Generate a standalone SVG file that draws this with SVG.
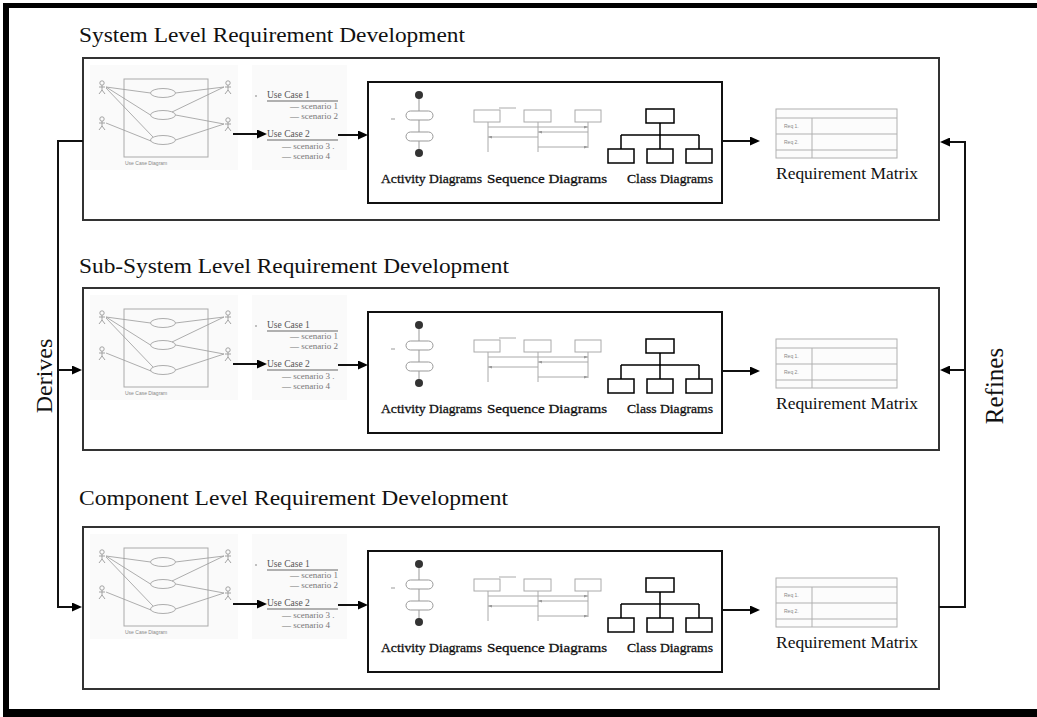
<svg xmlns="http://www.w3.org/2000/svg" xmlns:xlink="http://www.w3.org/1999/xlink" width="1037" height="717" viewBox="0 0 1037 717">
<style>
.title{font-family:"Liberation Serif","Times New Roman",serif;font-size:20px;fill:#111}
.side{font-family:"Liberation Serif","Times New Roman",serif;font-size:24px;fill:#111}
.panel{fill:#fff;stroke:#333;stroke-width:2}
.inner{fill:#fff;stroke:#111;stroke-width:2}
.faintbg{fill:#fafafa}
.uc{fill:none;stroke:#aaa;stroke-width:1}
.ucl{fill:none;stroke:#999;stroke-width:0.8}
.tiny{font-family:"Liberation Sans",Arial,sans-serif;font-size:5px;fill:#888}
.list{font-family:"Liberation Serif","Times New Roman",serif;font-size:9px;fill:#777}
.listh{font-family:"Liberation Serif","Times New Roman",serif;font-size:9.5px;fill:#555}
.ul{stroke:#666;stroke-width:1}
.act{fill:#fff;stroke:#999;stroke-width:1}
.dot{fill:#333}
.seq{fill:none;stroke:#aaa;stroke-width:1}
.cls{fill:none;stroke:#000;stroke-width:1.5}
.lbl{font-family:"Liberation Serif","Times New Roman",serif;font-size:13px;fill:#111;stroke:#111;stroke-width:0.3}
.mx{fill:none;stroke:#b0b0b0;stroke-width:1}
.mxl{font-family:"Liberation Serif","Times New Roman",serif;font-size:17px;fill:#111}
.conn{fill:none;stroke:#111;stroke-width:2}
.frame{fill:#000}
</style>
<defs>
<marker id="ah" viewBox="0 0 10 9" refX="7" refY="4.5" markerWidth="10" markerHeight="9" markerUnits="userSpaceOnUse" orient="auto"><path d="M0,0 L10,4.5 L0,9 z" fill="#000"/></marker>
<marker id="sa" viewBox="0 0 4 3" refX="4" refY="1.5" markerWidth="4" markerHeight="3" markerUnits="userSpaceOnUse" orient="auto"><path d="M0,0 L4,1.5 L0,3 z" fill="#999"/></marker>
<g id="actor" fill="none" stroke="#999" stroke-width="0.9"><circle cx="0" cy="-4" r="2.2"/><path d="M0 -1.8 V3 M-3 0 H3 M0 3 L-3 7 M0 3 L3 7"/></g>
</defs>

<g id="frame">
<rect class="frame" x="3" y="3" width="1034" height="5"/>
<rect class="frame" x="3" y="3" width="6" height="714"/>
<rect class="frame" x="3" y="709" width="1034" height="8"/>
</g>

<!-- System level -->
<g id="system-level" transform="translate(0,58)">
<text class="title" x="79" y="-16" textLength="386" lengthAdjust="spacingAndGlyphs">System Level Requirement Development</text>
<rect class="panel" x="83" y="0" width="856" height="162"/>
<g id="system-usecase-diagram">
<rect class="faintbg" x="90" y="7" width="148" height="105"/>
<rect class="uc" x="124" y="21" width="84" height="78"/>
<path class="ucl" d="M106 29 L150.5 35 M106 29 L150.5 57 M106 30 L153 79 M106 65 L151 83 M224 29 L175.5 35 M224 29 L172 54 M224 66 L175.5 57 M224 66 L175.5 82"/>
<ellipse class="ucl" cx="163" cy="35" rx="12.5" ry="4.5" fill="#fff"/>
<ellipse class="ucl" cx="163" cy="57" rx="12.5" ry="4.5" fill="#fff"/>
<ellipse class="ucl" cx="163" cy="82" rx="12.5" ry="4.5" fill="#fff"/>
<use xlink:href="#actor" href="#actor" x="102" y="29"/>
<use xlink:href="#actor" href="#actor" x="102" y="65"/>
<use xlink:href="#actor" href="#actor" x="228" y="29"/>
<use xlink:href="#actor" href="#actor" x="228" y="66"/>
<text class="tiny" x="125" y="107">Use Case Diagram</text>
</g>
<g id="system-use-cases">
<rect class="faintbg" x="252" y="7" width="95" height="105"/>
<circle cx="256" cy="38" r="0.8" fill="#777"/>
<text class="listh" x="267" y="40">Use Case 1</text>
<line class="ul" x1="267" y1="43" x2="338" y2="43"/>
<text class="list" x="290" y="51">— scenario 1</text>
<text class="list" x="290" y="61">— scenario 2</text>
<text class="listh" x="267" y="79">Use Case 2</text>
<line class="ul" x1="267" y1="82" x2="338" y2="82"/>
<text class="list" x="282" y="91">— scenario 3 .</text>
<text class="list" x="282" y="101">— scenario 4</text>
</g>
<g id="system-diagrams">
<rect class="inner" x="368" y="24" width="354" height="121"/>
<line class="act" x1="419" y1="37" x2="419" y2="95"/>
<rect class="act" x="406" y="53" width="27" height="9" rx="4.5"/>
<rect class="act" x="406" y="74" width="27" height="9" rx="4.5"/>
<circle class="dot" cx="419" cy="37" r="4"/>
<circle class="dot" cx="419" cy="95" r="4"/>
<line class="act" x1="391" y1="61" x2="395" y2="61"/>
<path class="seq" d="M488 64 V94 M538 64 V94 M588 64 V90 M499 50 H516"/>
<rect class="seq" x="474" y="52" width="26" height="12"/>
<rect class="seq" x="524" y="52" width="27" height="12"/>
<rect class="seq" x="575" y="52" width="26" height="12"/>
<line class="seq" x1="488" y1="69" x2="588" y2="69" marker-end="url(#sa)"/>
<line class="seq" x1="588" y1="74" x2="538" y2="74" marker-end="url(#sa)"/>
<line class="seq" x1="538" y1="79" x2="488" y2="79" marker-end="url(#sa)"/>
<line class="seq" x1="538" y1="89" x2="588" y2="89" marker-end="url(#sa)"/>
<rect class="cls" x="646" y="51" width="28" height="14"/>
<path class="cls" d="M660 65 V77 M621 77 H699 M621 77 V91 M660 77 V91 M699 77 V91"/>
<rect class="cls" x="608" y="91" width="26" height="14"/>
<rect class="cls" x="647" y="91" width="26" height="14"/>
<rect class="cls" x="686" y="91" width="26" height="14"/>
<text class="lbl" x="381" y="125" textLength="101" lengthAdjust="spacingAndGlyphs">Activity Diagrams</text>
<text class="lbl" x="487" y="125" textLength="120" lengthAdjust="spacingAndGlyphs">Sequence Diagrams</text>
<text class="lbl" x="627" y="125" textLength="86" lengthAdjust="spacingAndGlyphs">Class Diagrams</text>
</g>
<g id="system-matrix">
<rect x="776" y="51" width="121" height="49" fill="#fcfcfc" stroke="#b0b0b0"/>
<path class="mx" d="M776 60 H897 M776 76 H897 M776 92 H897 M812 60 V100"/>
<text class="tiny" x="784" y="70">Req 1.</text>
<text class="tiny" x="784" y="86">Req 2.</text>
<text class="mxl" x="776" y="121" textLength="142" lengthAdjust="spacingAndGlyphs">Requirement Matrix</text>
</g>
</g>

<!-- Sub-System level -->
<g id="subsystem-level" transform="translate(0,288)">
<text class="title" x="79" y="-15" textLength="430" lengthAdjust="spacingAndGlyphs">Sub-System Level Requirement Development</text>
<rect class="panel" x="83" y="0" width="856" height="162"/>
<g id="subsystem-usecase-diagram">
<rect class="faintbg" x="90" y="7" width="148" height="105"/>
<rect class="uc" x="124" y="21" width="84" height="78"/>
<path class="ucl" d="M106 29 L150.5 35 M106 29 L150.5 57 M106 30 L153 79 M106 65 L151 83 M224 29 L175.5 35 M224 29 L172 54 M224 66 L175.5 57 M224 66 L175.5 82"/>
<ellipse class="ucl" cx="163" cy="35" rx="12.5" ry="4.5" fill="#fff"/>
<ellipse class="ucl" cx="163" cy="57" rx="12.5" ry="4.5" fill="#fff"/>
<ellipse class="ucl" cx="163" cy="82" rx="12.5" ry="4.5" fill="#fff"/>
<use xlink:href="#actor" href="#actor" x="102" y="29"/>
<use xlink:href="#actor" href="#actor" x="102" y="65"/>
<use xlink:href="#actor" href="#actor" x="228" y="29"/>
<use xlink:href="#actor" href="#actor" x="228" y="66"/>
<text class="tiny" x="125" y="107">Use Case Diagram</text>
</g>
<g id="subsystem-use-cases">
<rect class="faintbg" x="252" y="7" width="95" height="105"/>
<circle cx="256" cy="38" r="0.8" fill="#777"/>
<text class="listh" x="267" y="40">Use Case 1</text>
<line class="ul" x1="267" y1="43" x2="338" y2="43"/>
<text class="list" x="290" y="51">— scenario 1</text>
<text class="list" x="290" y="61">— scenario 2</text>
<text class="listh" x="267" y="79">Use Case 2</text>
<line class="ul" x1="267" y1="82" x2="338" y2="82"/>
<text class="list" x="282" y="91">— scenario 3 .</text>
<text class="list" x="282" y="101">— scenario 4</text>
</g>
<g id="subsystem-diagrams">
<rect class="inner" x="368" y="24" width="354" height="121"/>
<line class="act" x1="419" y1="37" x2="419" y2="95"/>
<rect class="act" x="406" y="53" width="27" height="9" rx="4.5"/>
<rect class="act" x="406" y="74" width="27" height="9" rx="4.5"/>
<circle class="dot" cx="419" cy="37" r="4"/>
<circle class="dot" cx="419" cy="95" r="4"/>
<line class="act" x1="391" y1="61" x2="395" y2="61"/>
<path class="seq" d="M488 64 V94 M538 64 V94 M588 64 V90 M499 50 H516"/>
<rect class="seq" x="474" y="52" width="26" height="12"/>
<rect class="seq" x="524" y="52" width="27" height="12"/>
<rect class="seq" x="575" y="52" width="26" height="12"/>
<line class="seq" x1="488" y1="69" x2="588" y2="69" marker-end="url(#sa)"/>
<line class="seq" x1="588" y1="74" x2="538" y2="74" marker-end="url(#sa)"/>
<line class="seq" x1="538" y1="79" x2="488" y2="79" marker-end="url(#sa)"/>
<line class="seq" x1="538" y1="89" x2="588" y2="89" marker-end="url(#sa)"/>
<rect class="cls" x="646" y="51" width="28" height="14"/>
<path class="cls" d="M660 65 V77 M621 77 H699 M621 77 V91 M660 77 V91 M699 77 V91"/>
<rect class="cls" x="608" y="91" width="26" height="14"/>
<rect class="cls" x="647" y="91" width="26" height="14"/>
<rect class="cls" x="686" y="91" width="26" height="14"/>
<text class="lbl" x="381" y="125" textLength="101" lengthAdjust="spacingAndGlyphs">Activity Diagrams</text>
<text class="lbl" x="487" y="125" textLength="120" lengthAdjust="spacingAndGlyphs">Sequence Diagrams</text>
<text class="lbl" x="627" y="125" textLength="86" lengthAdjust="spacingAndGlyphs">Class Diagrams</text>
</g>
<g id="subsystem-matrix">
<rect x="776" y="51" width="121" height="49" fill="#fcfcfc" stroke="#b0b0b0"/>
<path class="mx" d="M776 60 H897 M776 76 H897 M776 92 H897 M812 60 V100"/>
<text class="tiny" x="784" y="70">Req 1.</text>
<text class="tiny" x="784" y="86">Req 2.</text>
<text class="mxl" x="776" y="121" textLength="142" lengthAdjust="spacingAndGlyphs">Requirement Matrix</text>
</g>
</g>

<!-- Component level -->
<g id="component-level" transform="translate(0,527)">
<text class="title" x="79" y="-22" textLength="429" lengthAdjust="spacingAndGlyphs">Component Level Requirement Development</text>
<rect class="panel" x="83" y="0" width="856" height="162"/>
<g id="component-usecase-diagram">
<rect class="faintbg" x="90" y="7" width="148" height="105"/>
<rect class="uc" x="124" y="21" width="84" height="78"/>
<path class="ucl" d="M106 29 L150.5 35 M106 29 L150.5 57 M106 30 L153 79 M106 65 L151 83 M224 29 L175.5 35 M224 29 L172 54 M224 66 L175.5 57 M224 66 L175.5 82"/>
<ellipse class="ucl" cx="163" cy="35" rx="12.5" ry="4.5" fill="#fff"/>
<ellipse class="ucl" cx="163" cy="57" rx="12.5" ry="4.5" fill="#fff"/>
<ellipse class="ucl" cx="163" cy="82" rx="12.5" ry="4.5" fill="#fff"/>
<use xlink:href="#actor" href="#actor" x="102" y="29"/>
<use xlink:href="#actor" href="#actor" x="102" y="65"/>
<use xlink:href="#actor" href="#actor" x="228" y="29"/>
<use xlink:href="#actor" href="#actor" x="228" y="66"/>
<text class="tiny" x="125" y="107">Use Case Diagram</text>
</g>
<g id="component-use-cases">
<rect class="faintbg" x="252" y="7" width="95" height="105"/>
<circle cx="256" cy="38" r="0.8" fill="#777"/>
<text class="listh" x="267" y="40">Use Case 1</text>
<line class="ul" x1="267" y1="43" x2="338" y2="43"/>
<text class="list" x="290" y="51">— scenario 1</text>
<text class="list" x="290" y="61">— scenario 2</text>
<text class="listh" x="267" y="79">Use Case 2</text>
<line class="ul" x1="267" y1="82" x2="338" y2="82"/>
<text class="list" x="282" y="91">— scenario 3 .</text>
<text class="list" x="282" y="101">— scenario 4</text>
</g>
<g id="component-diagrams">
<rect class="inner" x="368" y="24" width="354" height="121"/>
<line class="act" x1="419" y1="37" x2="419" y2="95"/>
<rect class="act" x="406" y="53" width="27" height="9" rx="4.5"/>
<rect class="act" x="406" y="74" width="27" height="9" rx="4.5"/>
<circle class="dot" cx="419" cy="37" r="4"/>
<circle class="dot" cx="419" cy="95" r="4"/>
<line class="act" x1="391" y1="61" x2="395" y2="61"/>
<path class="seq" d="M488 64 V94 M538 64 V94 M588 64 V90 M499 50 H516"/>
<rect class="seq" x="474" y="52" width="26" height="12"/>
<rect class="seq" x="524" y="52" width="27" height="12"/>
<rect class="seq" x="575" y="52" width="26" height="12"/>
<line class="seq" x1="488" y1="69" x2="588" y2="69" marker-end="url(#sa)"/>
<line class="seq" x1="588" y1="74" x2="538" y2="74" marker-end="url(#sa)"/>
<line class="seq" x1="538" y1="79" x2="488" y2="79" marker-end="url(#sa)"/>
<line class="seq" x1="538" y1="89" x2="588" y2="89" marker-end="url(#sa)"/>
<rect class="cls" x="646" y="51" width="28" height="14"/>
<path class="cls" d="M660 65 V77 M621 77 H699 M621 77 V91 M660 77 V91 M699 77 V91"/>
<rect class="cls" x="608" y="91" width="26" height="14"/>
<rect class="cls" x="647" y="91" width="26" height="14"/>
<rect class="cls" x="686" y="91" width="26" height="14"/>
<text class="lbl" x="381" y="125" textLength="101" lengthAdjust="spacingAndGlyphs">Activity Diagrams</text>
<text class="lbl" x="487" y="125" textLength="120" lengthAdjust="spacingAndGlyphs">Sequence Diagrams</text>
<text class="lbl" x="627" y="125" textLength="86" lengthAdjust="spacingAndGlyphs">Class Diagrams</text>
</g>
<g id="component-matrix">
<rect x="776" y="51" width="121" height="49" fill="#fcfcfc" stroke="#b0b0b0"/>
<path class="mx" d="M776 60 H897 M776 76 H897 M776 92 H897 M812 60 V100"/>
<text class="tiny" x="784" y="70">Req 1.</text>
<text class="tiny" x="784" y="86">Req 2.</text>
<text class="mxl" x="776" y="121" textLength="142" lengthAdjust="spacingAndGlyphs">Requirement Matrix</text>
</g>
</g>

<g id="connectors">
<line class="conn" x1="233" y1="134" x2="264" y2="134" marker-end="url(#ah)"/>
<line class="conn" x1="338" y1="135" x2="365" y2="135" marker-end="url(#ah)"/>
<line class="conn" x1="722" y1="141" x2="757" y2="141" marker-end="url(#ah)"/>
<line class="conn" x1="233" y1="364" x2="264" y2="364" marker-end="url(#ah)"/>
<line class="conn" x1="338" y1="365" x2="365" y2="365" marker-end="url(#ah)"/>
<line class="conn" x1="722" y1="371" x2="757" y2="371" marker-end="url(#ah)"/>
<line class="conn" x1="233" y1="604" x2="264" y2="604" marker-end="url(#ah)"/>
<line class="conn" x1="338" y1="605" x2="365" y2="605" marker-end="url(#ah)"/>
<line class="conn" x1="722" y1="610" x2="757" y2="610" marker-end="url(#ah)"/>
<path class="conn" d="M83 141 H58 V607 H79" marker-end="url(#ah)"/>
<line class="conn" x1="58" y1="370" x2="79" y2="370" marker-end="url(#ah)"/>
<path class="conn" d="M939 607 H965 V142 H943" marker-end="url(#ah)"/>
<line class="conn" x1="965" y1="370" x2="943" y2="370" marker-end="url(#ah)"/>
</g>

<text class="side" transform="translate(52,376) rotate(-90)" text-anchor="middle">Derives</text>
<text class="side" transform="translate(1003,386) rotate(-90)" text-anchor="middle" style="font-size:25px">Refines</text>
</svg>
